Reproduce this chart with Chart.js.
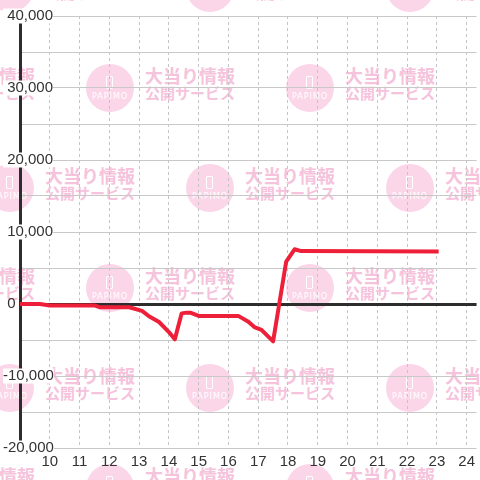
<!DOCTYPE html>
<html>
<head>
<meta charset="utf-8">
<script src="https://cdn.jsdelivr.net/npm/chart.js@4/dist/chart.umd.min.js"></script>
<style>
  html, body { margin: 0; padding: 0; background: #fff; }
  #wrap { position: relative; width: 480px; height: 480px; overflow: hidden; background: #fff; }
  #wm { position: absolute; left: 0; top: 0; width: 480px; height: 480px; }
  .mark { position: absolute; width: 48px; height: 48px; border-radius: 50%; background: #fbd6e9; }
  .mark .phone { position: absolute; left: 20px; top: 12px; width: 5px; height: 11px; border: 1px solid #fff; border-radius: 1px; }
  .mark .logo { position: absolute; left: 0; width: 48px; top: 28px; text-align: center; color: #fff;
    font: 8px "DejaVu Sans", sans-serif; letter-spacing: 1px; }
  .txt { position: absolute; color: #f6c3dc; font-family: "Noto Sans CJK JP", sans-serif; font-weight: bold; white-space: nowrap; }
  .txt .l1 { font-size: 18px; line-height: 18px; }
  .txt .l2 { font-size: 15px; line-height: 18px; }
  canvas { position: absolute; left: 0; top: 0; }
</style>
</head>
<body>
<div id="wrap">
  <div id="wm"></div>
  <canvas id="graph" width="480" height="480"></canvas>
</div>
<script>
(function () {
  // 時間 (x) と 差枚 (y)
  const hours = [9, 9.67, 10, 11.5, 11.67, 12.67, 13.1, 13.33, 13.67, 14.0, 14.2, 14.43, 14.6, 14.72, 15, 16.33, 16.67, 16.89, 17.11, 17.5, 17.94, 18.22, 18.44, 23.06];
  const diff = [0, 0, -200, -200, -450, -450, -950, -1700, -2500, -3900, -4900, -1300, -1200, -1200, -1650, -1650, -2450, -3250, -3600, -5200, 5900, 7600, 7350, 7300];

  // 目盛り
  const xTicks = [10, 11, 12, 13, 14, 15, 16, 17, 18, 19, 20, 21, 22, 23, 24];
  const yTicks = [-20000, -15000, -10000, -5000, 0, 5000, 10000, 15000, 20000, 25000, 30000, 35000, 40000];

  // ------------------ 背景の透かし ------------------
  const wm = document.getElementById('wm');
  for (let r = 0; r < 6; r++) {
    const cy = -12 + r * 100;
    const off = r % 2 === 0 ? 10 : 110;
    for (let c = -1; c < 3; c++) {
      const cx = off + c * 200;
      const m = document.createElement('div');
      m.className = 'mark';
      m.style.left = cx - 24 + 'px';
      m.style.top = cy - 24 + 'px';
      m.innerHTML = '<div class="phone"></div><div class="logo">PAPIMO</div>';
      wm.appendChild(m);
      const t = document.createElement('div');
      t.className = 'txt';
      t.style.left = cx + 35 + 'px';
      t.style.top = cy - 22 + 'px';
      t.innerHTML = '<div class="l1">大当り情報</div><div class="l2">公開サービス</div>';
      wm.appendChild(t);
    }
  }

  // ------------------ グラフ ------------------
  const family = '"Liberation Sans", Arial, sans-serif';
  const labelled = (v) => v % 10000 === 0;

  new Chart(document.getElementById('graph'), {
    type: 'line',
    data: {
      datasets: [
        {
          data: hours.map((h, i) => ({ x: h, y: diff[i] })),
          borderColor: '#ee1f38',
          borderWidth: 4,
          borderJoinStyle: 'round',
          pointRadius: 0,
          tension: 0,
        },
      ],
    },
    options: {
      responsive: false,
      animation: false,
      devicePixelRatio: 1,
      layout: { padding: { top: 16, right: 0, left: 0, bottom: 0 } },
      plugins: { legend: { display: false }, tooltip: { enabled: false } },
      scales: {
        x: {
          type: 'linear',
          min: 9,
          max: 24.333,
          afterBuildTicks: (s) => { s.ticks = xTicks.map((v) => ({ value: v })); },
          afterFit: (s) => { s.height = 32; },
          grid: { color: '#c4c4c4', lineWidth: 1, drawTicks: false },
          border: { display: false, dash: [3, 3] },
          ticks: { font: { family: family, size: 15 }, color: '#333', padding: 5, maxRotation: 0, autoSkip: false },
        },
        y: {
          min: -20000,
          max: 40000,
          afterBuildTicks: (s) => { s.ticks = yTicks.map((v) => ({ value: v })); },
          afterFit: (s) => { s.width = 20; },
          grid: {
            drawTicks: false,
            color: (c) => (c.tick && c.tick.value === 0 ? '#2d2d2d' : '#c8c8c8'),
            lineWidth: (c) => (c.tick && c.tick.value === 0 ? 3 : 1),
          },
          border: { display: true, color: '#2d2d2d', width: 3 },
          ticks: {
            font: { family: family, size: 15, lineHeight: 1 },
            color: '#333',
            mirror: true,
            padding: -17,
            autoSkip: false,
            showLabelBackdrop: true,
            backdropPadding: 0,
            backdropColor: (c) =>
              c.tick && c.tick.value !== 0 && labelled(c.tick.value) ? '#fff' : 'rgba(0,0,0,0)',
            callback: (v) => {
              if (!labelled(v)) return '';
              const s = v.toLocaleString('en-US');
              return v < 0 ? s : ' ' + s;
            },
          },
        },
      },
    },
  });
})();
</script>
</body>
</html>
